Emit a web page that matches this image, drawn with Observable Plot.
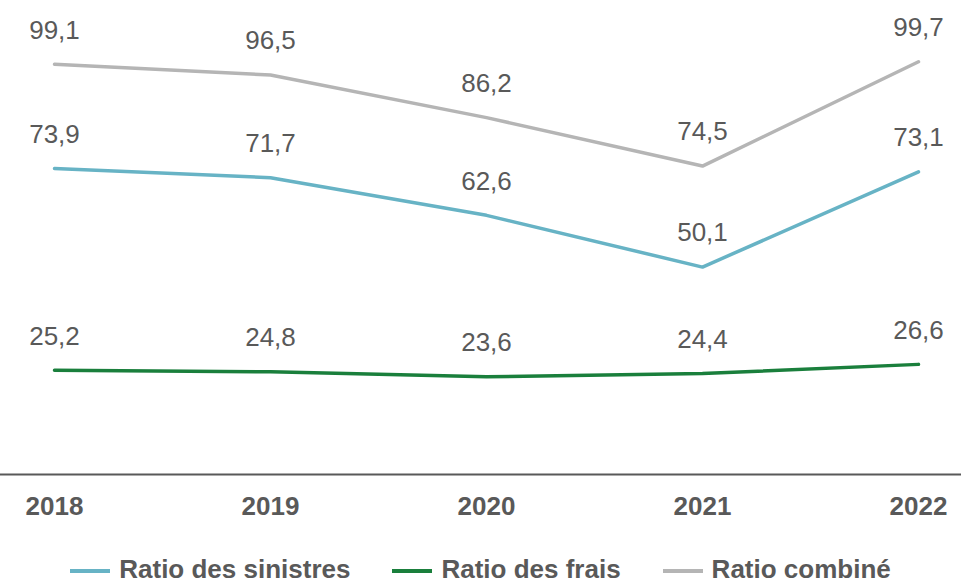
<!DOCTYPE html>
<html>
<head>
<meta charset="utf-8">
<script src="https://cdn.jsdelivr.net/npm/d3@7"></script>
<script src="https://cdn.jsdelivr.net/npm/@observablehq/plot@0.6"></script>
<style>
  html, body { margin: 0; padding: 0; background: #fff; }
  body { width: 961px; height: 586px; overflow: hidden; font-family: "Liberation Sans", Arial, sans-serif; }
  #legend { display: flex; justify-content: center; align-items: center; height: 28px; margin-top: 25px; font-weight: bold; font-size: 26px; color: #595959; line-height: 28px; }
  .item { display: flex; align-items: center; margin: 0 21px; }
  .sw { width: 40px; height: 4px; margin-right: 9px; margin-top: 3px; }
</style>
</head>
<body>
<div id="chart"></div>
<div id="legend"></div>
<script>
const years = ["2018", "2019", "2020", "2021", "2022"];
const seriesNames = ["Ratio des sinistres", "Ratio des frais", "Ratio combiné"];
const sinistres = [73.9, 71.7, 62.6, 50.1, 73.1];
const frais = [25.2, 24.8, 23.6, 24.4, 26.6];
const combine = [99.1, 96.5, 86.2, 74.5, 99.7];
const colors = ["#67B3C5", "#1A7F3C", "#B5B5B5"];

const allValues = [sinistres, frais, combine];
const data = [];
seriesNames.forEach((s, i) => {
  years.forEach((y, j) => data.push({series: s, year: y, value: allValues[i][j]}));
});
const fmt = v => v.toFixed(1).replace(".", ",");

const plot = Plot.plot({
  width: 961,
  height: 530,
  marginLeft: 53,
  marginRight: 43,
  marginTop: 60,
  marginBottom: 56,
  style: {fontFamily: "'Liberation Sans', Arial, sans-serif", background: "#fff"},
  x: {type: "point", domain: years, padding: 0, label: null},
  y: {domain: [0, 100], axis: null},
  color: {domain: seriesNames, range: colors},
  marks: [
    Plot.axisX({tickSize: 0, tickPadding: 22, fontSize: 26, fontWeight: "bold", fill: "#595959", label: null}),
    Plot.ruleY([0], {stroke: "#595959", strokeWidth: 2, insetLeft: -53, insetRight: -43}),
    Plot.line(data, {x: "year", y: "value", z: "series", stroke: "series", strokeWidth: 3.5}),
    Plot.text(data, {x: "year", y: "value", text: d => fmt(d.value), dy: -34, fontSize: 26, fill: "#595959"})
  ]
});
document.getElementById("chart").appendChild(plot);

const legend = document.getElementById("legend");
seriesNames.forEach((s, i) => {
  const it = document.createElement("div");
  it.className = "item";
  const sw = document.createElement("span");
  sw.className = "sw";
  sw.style.background = colors[i];
  const t = document.createElement("span");
  t.textContent = s;
  it.appendChild(sw);
  it.appendChild(t);
  legend.appendChild(it);
});
</script>
</body>
</html>
